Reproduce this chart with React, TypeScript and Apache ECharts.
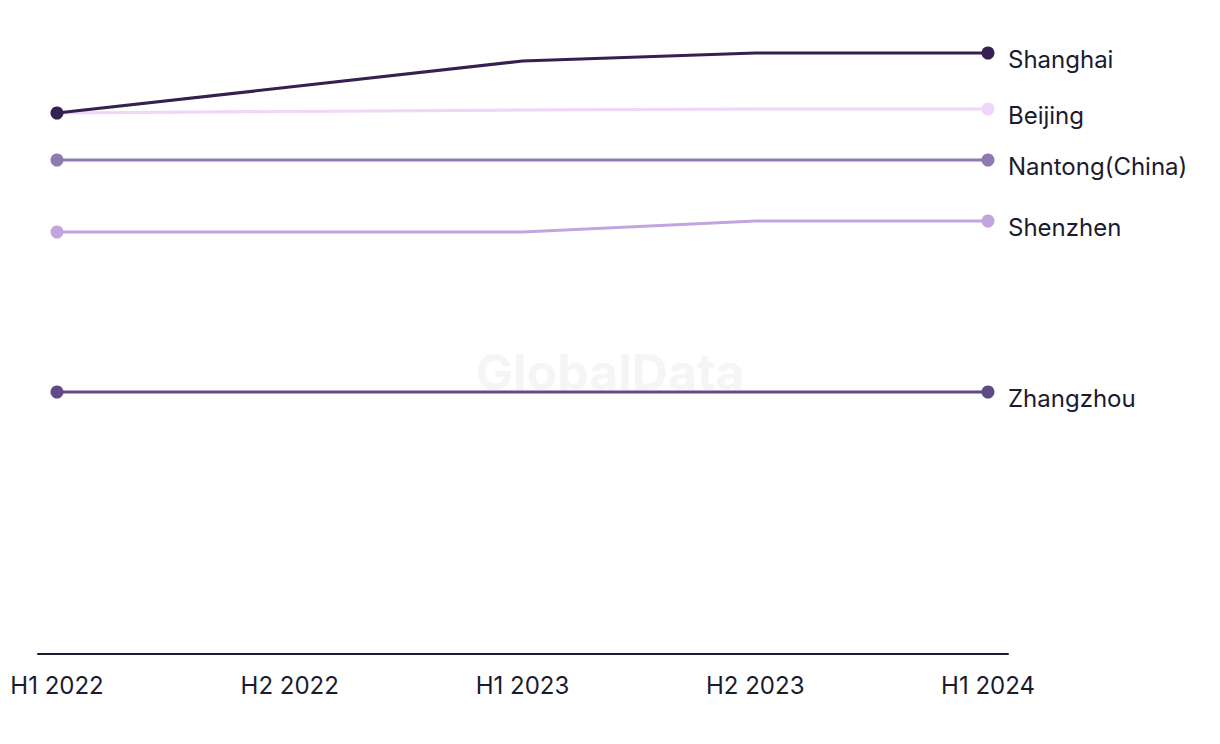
import React, { useEffect, useRef } from "react";
import * as echarts from "echarts";

const periods = ["H1 2022", "H2 2022", "H1 2023", "H2 2023", "H1 2024"];
const seriesNames = ["Zhangzhou", "Shenzhen", "Nantong(China)", "Beijing", "Shanghai"];
const zhangzhou = [26.2, 26.2, 26.2, 26.2, 26.2];
const shenzhen = [42.2, 42.2, 42.2, 43.3, 43.3];
const nantong = [49.4, 49.4, 49.4, 49.4, 49.4];
const beijing = [54.1, 54.25, 54.4, 54.5, 54.5];
const shanghai = [54.1, 56.7, 59.3, 60.1, 60.1];
const seriesValues = [zhangzhou, shenzhen, nantong, beijing, shanghai];
const seriesColors = ["#5f4b86", "#c1a4e0", "#9079b0", "#f0d6f8", "#35204f"];

export default function App() {
  const ref = useRef<HTMLDivElement>(null);
  useEffect(() => {
    if (!ref.current) return;
    const chart = echarts.init(ref.current, undefined, { renderer: "svg" });
    const textColor = "#1b1b2f";
    const font = "Inter, 'Liberation Sans', Arial, sans-serif";
    chart.setOption({
      animation: false,
      backgroundColor: "#ffffff",
      graphic: [
        {
          type: "text",
          left: "center",
          top: 347,
          z: 0,
          style: {
            text: "GlobalData",
            fill: "#f5f5f5",
            font: `bold 50px ${font}`,
          },
        },
      ],
      grid: { left: 38, right: 212, top: 4, bottom: 90, containLabel: false },
      xAxis: {
        type: "value",
        min: -0.0816,
        max: 4.086,
        splitLine: { show: false },
        axisTick: { show: false },
        axisLine: { show: true, lineStyle: { color: textColor, width: 2 } },
        axisLabel: {
          customValues: [0, 1, 2, 3, 4],
          formatter: (v: number) => periods[Math.round(v)] ?? "",
          color: textColor,
          fontSize: 24,
          fontFamily: font,
          margin: 19,
        },
      },
      yAxis: {
        type: "value",
        min: 0,
        max: 65,
        show: false,
        splitLine: { show: false },
      },
      series: seriesNames.map((name, i) => {
        const vals = seriesValues[i];
        return {
          name,
          type: "line",
          data: vals.map((v, j) => ({
            value: [j, v],
            symbol: j === 0 || j === vals.length - 1 ? "circle" : "none",
          })),
          symbol: "circle",
          symbolSize: 13,
          showSymbol: true,
          lineStyle: { color: seriesColors[i], width: 3.2 },
          itemStyle: { color: seriesColors[i] },
          z: 2 + i,
          endLabel: {
            show: true,
            formatter: "{a}",
            color: textColor,
            fontSize: 24,
            fontFamily: font,
            distance: 20,
            offset: [0, 6],
          },
        };
      }),
    });
    return () => chart.dispose();
  }, []);
  return (
    <div
      ref={ref}
      style={{ position: "fixed", left: 0, top: 0, width: 1220, height: 744 }}
    />
  );
}
